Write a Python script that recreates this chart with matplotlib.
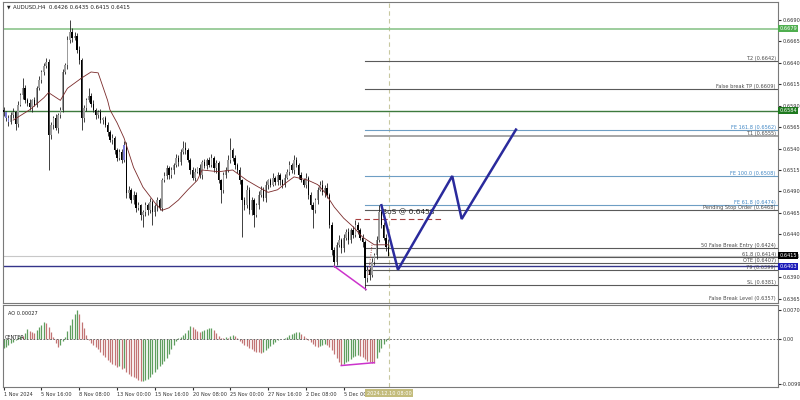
import numpy as np
import matplotlib
matplotlib.use("Agg")
import matplotlib.pyplot as plt
from matplotlib.transforms import blended_transform_factory

# ---- AUDUSD H4 candles (bar 0 = 1 Nov 2024 00:00), open = previous close ----
first_open = 0.6585
closes = [
    0.6582, 0.6575, 0.6571, 0.6579, 0.6582, 0.6568, 0.6591, 0.6602, 0.6610, 0.6596,
    0.6593, 0.6588, 0.6596, 0.6591, 0.6610, 0.6620, 0.6629, 0.6636, 0.6641, 0.6556,
    0.6567, 0.6575, 0.6564, 0.6579, 0.6585, 0.6629, 0.6637, 0.6666, 0.6676, 0.6669,
    0.6671, 0.6655, 0.6643, 0.6575, 0.6587, 0.6596, 0.6601, 0.6592, 0.6585, 0.6579,
    0.6582, 0.6573, 0.6575, 0.6567, 0.6559, 0.6550, 0.6552, 0.6538, 0.6529, 0.6536,
    0.6527, 0.6544, 0.6488, 0.6492, 0.6480, 0.6486, 0.6471, 0.6474, 0.6463, 0.6466,
    0.6474, 0.6468, 0.6478, 0.6466, 0.6473, 0.6480, 0.6471, 0.6503, 0.6508, 0.6517,
    0.6509, 0.6515, 0.6521, 0.6529, 0.6524, 0.6536, 0.6541, 0.6538, 0.6527, 0.6515,
    0.6506, 0.6513, 0.6517, 0.6509, 0.6524, 0.6520, 0.6527, 0.6521, 0.6529, 0.6517,
    0.6523, 0.6503, 0.6492, 0.6509, 0.6515, 0.6527, 0.6538, 0.6529, 0.6521, 0.6515,
    0.6503, 0.6480, 0.6474, 0.6492, 0.6468, 0.6480, 0.6463, 0.6474, 0.6486, 0.6492,
    0.6482, 0.6498, 0.6503, 0.6498, 0.6506, 0.6501, 0.6509, 0.6503, 0.6498, 0.6506,
    0.6513, 0.6521, 0.6515, 0.6527, 0.6521, 0.6509, 0.6503, 0.6498, 0.6506, 0.6486,
    0.6474, 0.6468, 0.6480, 0.6492, 0.6498, 0.6489, 0.6494, 0.6486, 0.6451, 0.6422,
    0.6408, 0.6428, 0.6434, 0.6424, 0.6436, 0.6443, 0.6434, 0.6445, 0.6439, 0.6451,
    0.6445, 0.6436, 0.6431, 0.6389, 0.6399, 0.6393, 0.6408, 0.6416, 0.6434, 0.6466,
    0.6451, 0.6436, 0.6426, 0.6415,
]
# wick lengths in pips (0.0001)
upper_wick = [
    3, 2, 4, 3, 5, 2, 4, 3, 12, 4,
    3, 5, 2, 4, 3, 4, 2, 3, 4, 3,
    4, 3, 5, 2, 3, 4, 3, 5, 14, 4,
    5, 3, 4, 2, 4, 3, 9, 3, 4, 2,
    3, 4, 2, 3, 4, 3, 5, 2, 3, 4,
    3, 5, 3, 4, 2, 5, 3, 4, 2, 3,
    4, 3, 5, 2, 3, 4, 3, 3, 5, 4,
    3, 4, 2, 5, 3, 4, 8, 6, 3, 2,
    3, 4, 2, 5, 3, 4, 2, 3, 5, 2,
    4, 3, 2, 4, 3, 5, 14, 3, 4, 2,
    3, 2, 4, 5, 3, 4, 2, 3, 5, 4,
    3, 4, 2, 3, 5, 2, 4, 3, 2, 4,
    3, 4, 2, 5, 3, 2, 4, 3, 5, 2,
    3, 4, 2, 3, 4, 5, 3, 6, 2, 3,
    4, 3, 5, 2, 4, 3, 4, 3, 5, 6,
    3, 2, 4, 3, 4, 3, 5, 3, 4, 8,
    2, 3, 4, 9,
]
lower_wick = [
    4, 3, 5, 2, 4, 6, 3, 2, 4, 3,
    4, 3, 5, 2, 3, 2, 4, 3, 2, 41,
    5, 4, 3, 6, 4, 3, 2, 4, 3, 5,
    3, 4, 5, 13, 4, 3, 2, 4, 3, 5,
    4, 3, 5, 2, 4, 3, 5, 4, 3, 2,
    4, 3, 5, 6, 3, 4, 5, 3, 6, 14,
    4, 5, 3, 15, 4, 6, 3, 4, 2, 3,
    4, 3, 5, 2, 4, 3, 2, 4, 3, 5,
    3, 4, 2, 3, 5, 3, 4, 2, 3, 4,
    5, 3, 15, 4, 3, 2, 4, 3, 5, 3,
    4, 43, 5, 3, 4, 5, 14, 3, 4, 2,
    3, 4, 5, 3, 2, 4, 3, 5, 4, 3,
    2, 4, 3, 5, 3, 4, 2, 3, 4, 5,
    4, 20, 3, 4, 2, 3, 5, 3, 4, 6,
    6, 4, 3, 5, 4, 3, 5, 4, 3, 2,
    4, 3, 5, 14, 4, 6, 3, 4, 5, 3,
    4, 3, 5, 0,
]
blue_bars = [1, 2, 51]

# moving average read at selected bars
ma_bar = [4, 11, 17, 19, 24, 27, 33, 37, 40, 42, 44, 45, 48, 51, 55, 59, 64, 67, 70, 74,
          78, 82, 84, 91, 97, 103, 108, 112, 116, 120, 123, 129, 133, 136, 140, 144, 148,
          152, 157, 163]
ma_val = [0.6573, 0.6585, 0.6599, 0.6605, 0.6596, 0.6610, 0.6622, 0.6629, 0.6628, 0.6612,
          0.6596, 0.6585, 0.6570, 0.6552, 0.6518, 0.6495, 0.6477, 0.6468, 0.6471, 0.6480,
          0.6492, 0.6503, 0.6515, 0.6513, 0.6515, 0.6503, 0.6495, 0.6489, 0.6492, 0.6501,
          0.6507, 0.6503, 0.6498, 0.6489, 0.6472, 0.6459, 0.6449, 0.6437, 0.6428, 0.6428]

# Awesome Oscillator, units of 0.0001
ao_units = [
    -18, -16, -12, -8, -6, -2, 4, 6, 6, 12,
    20, 16, 14, 13, 18, 24, 30, 36, 34, 24,
    14, 4, -8, -16, -12, -4, 4, 16, 30, 42,
    52, 60, 52, 36, 22, 8, -2, -8, -12, -16,
    -20, -27, -33, -37, -43, -47, -51, -53, -57, -56,
    -62, -61, -68, -72, -76, -78, -80, -84, -88, -87,
    -86, -82, -78, -72, -68, -62, -55, -51, -45, -39,
    -31, -21, -12, -4, 2, 4, 8, 12, 18, 27,
    24, 20, 16, 14, 16, 18, 20, 22, 23, 18,
    12, 6, 2, 2, 4, 2, 6, 8, 6, 2,
    -4, -8, -12, -14, -18, -20, -24, -26, -27, -29,
    -27, -23, -18, -14, -10, -6, -2, 1, 0, 2,
    4, 8, 10, 12, 14, 15, 10, 6, 2, -2,
    -6, -10, -14, -16, -14, -12, -10, -12, -16, -22,
    -31, -39, -47, -53, -51, -47, -45, -41, -37, -35,
    -33, -35, -37, -41, -45, -47, -49, -50, -39, -27,
    -18, -10, -4, 2.7,
]

# horizontal levels
level_names = ['T.2', 'False break TP', 'FE 161.8', 'T.1', 'FE 100.0', 'FE 61.8',
               'Pending Stop Order', '50 False Break Entry', '61.8', 'OTE', '79', 'SL',
               'False Break Level']
level_prices = [0.6642, 0.6609, 0.6562, 0.6555, 0.6508, 0.6474, 0.6468, 0.6424, 0.6414,
                0.6407, 0.6399, 0.6381, 0.6357]
level_start = 153
zone_prices = [0.6679, 0.6584, 0.6403]
bid_price = 0.6415
bos_price = 0.6458

# projected path and divergence lines
zig_bar = [160, 167, 190, 194, 217]
zig_price = [0.6474, 0.6399, 0.6508, 0.6458, 0.6562]
div_bar = [140, 153.5]
div_price = [0.6403, 0.6376]
ao_div_bar = [143, 157]
ao_div_units = [-55, -49]

date_ticks = [0, 16, 32, 48, 64, 80, 96, 112, 128, 144]
date_labels = ['1 Nov 2024', '5 Nov 16:00', '8 Nov 08:00', '13 Nov 00:00', '15 Nov 16:00',
               '20 Nov 08:00', '25 Nov 00:00', '27 Nov 16:00', '2 Dec 08:00', '5 Dec 00:00']
cursor_bar = 163.2

# ---------------- figure ----------------
W, H = 800, 400
fig = plt.figure(figsize=(8, 4), dpi=100)
fig.patch.set_facecolor('white')


def rect(x0, y0, x1, y1):
    return [x0 / W, 1 - y1 / H, (x1 - x0) / W, (y1 - y0) / H]


ax = fig.add_axes(rect(3, 2, 778, 303))
ax2 = fig.add_axes(rect(3, 305, 778, 387), sharex=ax)
fs = 3.6

closes = np.array(closes)
n = len(closes)
idx = np.arange(n)
opens = np.r_[first_open, closes[:-1]]
highs = np.maximum(opens, closes) + np.array(upper_wick) * 1e-4
lows = np.minimum(opens, closes) - np.array(lower_wick) * 1e-4
up = closes >= opens

body_col = np.where(up, '#9c9c9c', '#000000').astype(object)
for b in blue_bars:
    body_col[b] = '#7c7cd8'
ax.vlines(idx, lows, highs, colors='#202020', lw=0.6, zorder=3)
ax.bar(idx, np.maximum(np.abs(closes - opens), 0.00006), bottom=np.minimum(opens, closes),
       width=0.6, color=list(body_col), linewidth=0, zorder=4)

ax.plot(ma_bar, ma_val, color='#7a2a2a', lw=0.6, zorder=5)

ax.set_xlim(-0.3, 328)
ax.set_ylim(0.63603, 0.67104)

# full width lines
ax.axhline(zone_prices[0], color='#8cc58c', lw=1.2, zorder=2)
ax.axhline(zone_prices[1], color='#3d7a3d', lw=1.0, zorder=2)
ax.axhline(zone_prices[2], color='#34348a', lw=1.0, zorder=2)
ax.axhline(bid_price, color='#c8c8c8', lw=0.8, zorder=1)

# right side levels
tr = blended_transform_factory(ax.transAxes, ax.transData)
for name, p in zip(level_names, level_prices):
    fe = name.startswith('FE')
    lc = '#6e9ec4' if fe else '#5a5a5a'
    tc = '#3f86c4' if fe else '#4a4a4a'
    lw = 1.4 if name == 'T.1' else 0.8
    if name == 'T.1':
        lc = '#a6a6a6'
    ax.plot([level_start, 400], [p, p], color=lc, lw=lw, zorder=2)
    ty = max(p, 0.63625)
    ax.annotate(f'{name} ({p:.4f})', xy=(0.997, ty), xycoords=tr, xytext=(0, 2.5),
                textcoords='offset pixels', ha='right', va='center', fontsize=fs, color=tc,
                zorder=6, annotation_clip=False)

# BoS
ax.plot([149, 186], [bos_price, bos_price], color='#a84040', lw=0.8, ls=(0, (5, 3)), zorder=5)
ax.text(160.3, 0.6466, f'BoS @ {bos_price:.4f}', fontsize=5.4, color='#202020', va='center',
        ha='left', zorder=6)
ax.plot([156, 154.5], [0.6428, 0.6392], color='#a84040', lw=0.7, ls=(0, (1, 1.5)), zorder=5)

# projected zigzag and divergence
ax.plot(zig_bar, zig_price, color='#2a2a9c', lw=1.8, zorder=7, solid_joinstyle='miter')
ax.plot(div_bar, div_price, color='#cc33cc', lw=1.1, zorder=6)

ax.axvline(cursor_bar, color='#c8c8a0', lw=0.8, ls=(0, (4, 3)), zorder=1)

# right price axis
ax.yaxis.tick_right()
yt = np.arange(0.6365, 0.66905, 0.0025)
ax.set_yticks(yt)
ax.set_yticklabels([f'{v:.4f}' for v in yt])
ax.tick_params(axis='y', labelsize=fs, length=2, pad=1, colors='#303030')
ax.tick_params(axis='x', bottom=False, labelbottom=False)

box_cols = ['#4fae4f', '#1f7a1f', '#000000', '#1a1ab8']
for p, c in zip(zone_prices[:2] + [bid_price, zone_prices[2]], box_cols):
    ax.text(1.0015, p, f'{p:.4f}', transform=tr, fontsize=fs, color='white', ha='left',
            va='center', zorder=8, clip_on=False,
            bbox=dict(boxstyle='square,pad=0.2', fc=c, ec='none'))

for a in (ax, ax2):
    for s in a.spines.values():
        s.set_color('#7a7a7a')
        s.set_linewidth(0.8)

# ---------------- AO panel ----------------
ao = np.array(ao_units) * 1e-4
ao_up = np.r_[True, ao[1:] > ao[:-1]]
ax2.vlines(idx, 0, ao, colors=np.where(ao_up, '#5e9e5e', '#c27474'), lw=0.9)
ax2.plot(ao_div_bar, np.array(ao_div_units) * 1e-4, color='#cc33cc', lw=1.1)
ax2.axhline(0, color='#505050', lw=0.6, ls=(0, (2, 2)))
ax2.axvline(cursor_bar, color='#c8c8a0', lw=0.8, ls=(0, (4, 3)))
ax2.set_ylim(-0.00995, 0.00706)
ax2.yaxis.tick_right()
ax2.set_yticks([0.00602, 0.0, -0.00933])
ax2.set_yticklabels(['0.00706', '0.00', '-0.00995'])
ax2.tick_params(axis='y', labelsize=fs, length=2, pad=1, colors='#303030')
ax2.text(0.006, 0.9, 'AO 0.00027', transform=ax2.transAxes, fontsize=fs, color='#202020',
         va='center')
ax2.text(0.002, 0.6, 'CENTER', transform=ax2.transAxes, fontsize=fs, color='#202020',
         va='center')

ax2.set_xticks(date_ticks)
ax2.set_xticklabels(date_labels, ha='left')
ax2.tick_params(axis='x', labelsize=fs, length=2, pad=1.5, colors='#303030')
trx = blended_transform_factory(ax2.transData, ax2.transAxes)
ax2.text(cursor_bar, -0.075, '2024.12.10 08:00', transform=trx, fontsize=fs, color='white',
         ha='center', va='center', zorder=10, clip_on=False,
         bbox=dict(boxstyle='square,pad=0.3', fc='#c3bc7c', ec='none'))

fig.text(7 / W, 1 - 7 / H, '\u25bc', fontsize=3.3, va='center', color='#202020')
fig.text(13 / W, 1 - 7 / H, 'AUDUSD,H4  0.6426 0.6435 0.6415 0.6415', fontsize=3.9,
         va='center', color='#202020')

fig.savefig('out.png', dpi=100, facecolor='white')
